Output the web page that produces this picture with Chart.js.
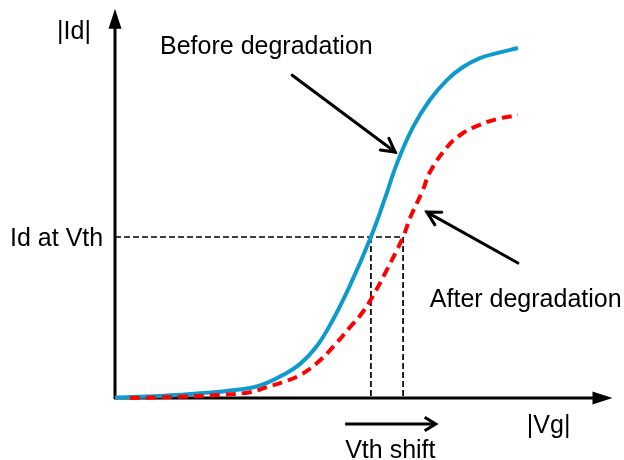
<!DOCTYPE html>
<html>
<head>
<meta charset="utf-8">
<script src="https://cdn.jsdelivr.net/npm/chart.js@4/dist/chart.umd.min.js"></script>
<style>
html,body{margin:0;padding:0;background:#fff;}
#wrap{width:624px;height:460px;position:relative;}
</style>
</head>
<body>
<div id="wrap"><canvas id="c" width="624" height="460"></canvas></div>
<script>
// Gate voltage |Vg| (arbitrary units) and drain current |Id| (arbitrary units)
const beforeVg = [0.00,0.91,1.72,2.73,3.07,3.39,3.74,4.08,4.40,4.75,5.17,5.45,5.70,6.02,6.36,6.71,7.03,7.37,7.72,8.14];
const beforeId = [0.01,0.05,0.12,0.26,0.39,0.59,0.88,1.34,2.01,2.91,4.15,5.13,6.06,6.98,7.68,8.20,8.53,8.76,8.89,9.02];
const afterVg  = [0.30,1.31,2.12,2.73,3.07,3.39,3.74,4.08,4.40,4.75,4.99,5.21,5.45,5.82,5.96,6.22,6.36,6.71,7.03,7.37,7.72,8.14];
const afterId  = [0.00,0.03,0.08,0.15,0.28,0.41,0.59,0.90,1.31,1.83,2.19,2.63,3.20,4.15,4.64,5.36,5.82,6.47,6.83,7.04,7.19,7.29];
const vthBefore = 5.17;
const vthAfter = 5.82;
const idAtVth = 4.15;
const seriesNames = ['Before degradation','After degradation'];
const axisNames = ['|Vg|','|Id|'];
const idLabel = 'Id at Vth';
const shiftLabel = 'Vth shift';

const toPts = (xs, ys) => xs.map((x,i)=>({x:x, y:ys[i]}));

const FONT = '25px "Liberation Sans", Arial, sans-serif';

function arrowOpen(ctx, x1,y1,x2,y2, len, ang){
  ctx.beginPath(); ctx.moveTo(x1,y1); ctx.lineTo(x2,y2); ctx.stroke();
  const a = Math.atan2(y2-y1, x2-x1);
  ctx.beginPath();
  ctx.moveTo(x2 - len*Math.cos(a-ang), y2 - len*Math.sin(a-ang));
  ctx.lineTo(x2,y2);
  ctx.lineTo(x2 - len*Math.cos(a+ang), y2 - len*Math.sin(a+ang));
  ctx.stroke();
}

const deco = {
  id:'deco',
  beforeDatasetsDraw(chart){
    const ctx = chart.ctx, xs = chart.scales.x, ys = chart.scales.y;
    const x0 = xs.getPixelForValue(0), y0 = ys.getPixelForValue(0);
    const xEnd = xs.getPixelForValue(10.05), yEnd = ys.getPixelForValue(10.03);
    ctx.save();
    // dashed guides
    ctx.strokeStyle = '#000'; ctx.lineWidth = 1.7; ctx.setLineDash([6,3]);
    const yv = ys.getPixelForValue(idAtVth);
    const xb = xs.getPixelForValue(vthBefore), xa = xs.getPixelForValue(vthAfter);
    ctx.beginPath(); ctx.moveTo(x0, yv); ctx.lineTo(xa, yv); ctx.stroke();
    ctx.beginPath(); ctx.moveTo(xb, yv); ctx.lineTo(xb, y0); ctx.stroke();
    ctx.beginPath(); ctx.moveTo(xa, yv); ctx.lineTo(xa, y0); ctx.stroke();
    ctx.setLineDash([]);
    // axes
    ctx.lineWidth = 3; ctx.lineCap = 'butt';
    ctx.beginPath(); ctx.moveTo(x0, y0+1); ctx.lineTo(x0, yEnd+18); ctx.stroke();
    ctx.beginPath(); ctx.moveTo(x0-1, y0); ctx.lineTo(xEnd-18, y0); ctx.stroke();
    ctx.fillStyle = '#000';
    ctx.beginPath(); ctx.moveTo(x0, yEnd); ctx.lineTo(x0-6.5, yEnd+20); ctx.lineTo(x0+6.5, yEnd+20); ctx.closePath(); ctx.fill();
    ctx.beginPath(); ctx.moveTo(xEnd, y0); ctx.lineTo(xEnd-20, y0-6.5); ctx.lineTo(xEnd-20, y0+6.5); ctx.closePath(); ctx.fill();
    ctx.restore();
  },
  afterDatasetsDraw(chart){
    const ctx = chart.ctx, xs = chart.scales.x, ys = chart.scales.y;
    const P = (vx, vy) => [xs.getPixelForValue(vx), ys.getPixelForValue(vy)];
    ctx.save();
    ctx.strokeStyle = '#000'; ctx.lineWidth = 3; ctx.lineCap = 'round'; ctx.lineJoin='miter';
    let a = P(3.58, 8.32), b = P(5.66, 6.34);
    arrowOpen(ctx, a[0],a[1], b[0],b[1], 15, 0.5);
    a = P(8.14, 3.48); b = P(6.30, 4.79);
    arrowOpen(ctx, a[0],a[1], b[0],b[1], 15, 0.5);
    ctx.lineCap = 'butt';
    a = P(4.65, -0.67); b = P(6.48, -0.67);
    arrowOpen(ctx, a[0],a[1], b[0],b[1], 13, 0.55);
    // texts
    ctx.fillStyle = '#000'; ctx.font = FONT; ctx.textBaseline = 'alphabetic'; ctx.textAlign = 'left';
    const T = (s, vx, vy) => { const p = P(vx, vy); ctx.fillText(s, p[0], p[1]); };
    T(axisNames[1], -1.17, 9.25);
    T(seriesNames[0], 0.91, 8.87);
    T(idLabel, -2.12, 3.92);
    T(seriesNames[1], 6.36, 2.35);
    T(axisNames[0], 8.32, -0.90);
    T(shiftLabel, 4.65, -1.55);
    ctx.restore();
  }
};

new Chart(document.getElementById('c'), {
  type: 'line',
  data: {
    datasets: [
      { label: seriesNames[1], data: toPts(afterVg, afterId), borderColor: '#FF0000', borderWidth: 4,
        borderDash: [10,6], pointRadius: 0, tension: 0.4, fill: false, clip: false, order: 0 },
      { label: seriesNames[0], data: toPts(beforeVg, beforeId), borderColor: '#0F9ACD', borderWidth: 4,
        pointRadius: 0, tension: 0.4, fill: false, clip: false, order: 1 }
    ]
  },
  options: {
    responsive: false,
    animation: false,
    devicePixelRatio: 1,
    layout: { padding: { left: 115, right: 14, top: 10, bottom: 62 } },
    plugins: { legend: { display: false }, tooltip: { enabled: false } },
    scales: {
      x: { type: 'linear', min: 0, max: 10, display: false },
      y: { type: 'linear', min: 0, max: 10, display: false }
    }
  },
  plugins: [deco]
});
</script>
</body>
</html>
